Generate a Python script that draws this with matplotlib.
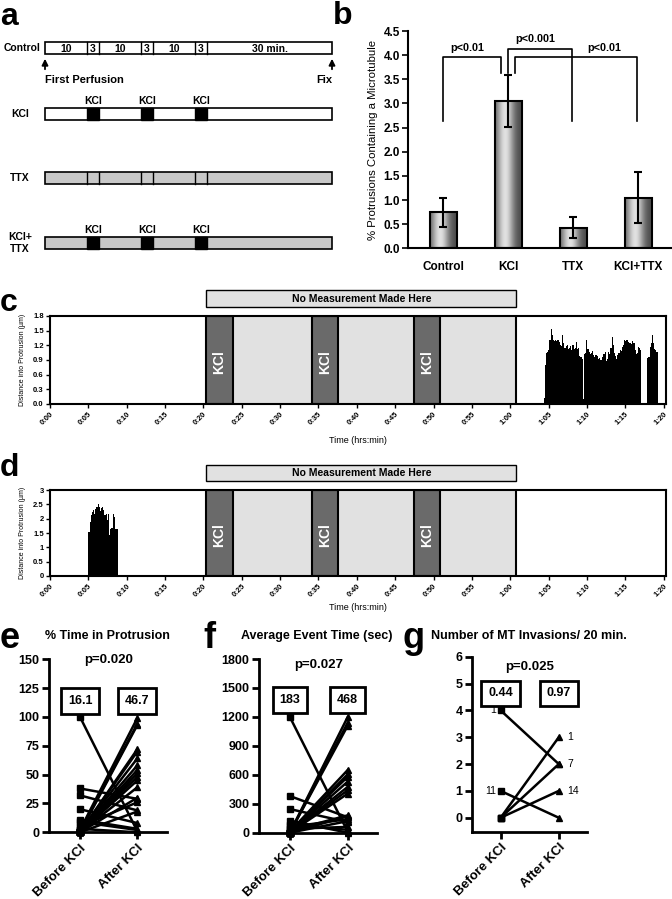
import numpy as np
import matplotlib
matplotlib.use('Agg')
import matplotlib.pyplot as plt
from matplotlib.patches import Rectangle
from matplotlib.ticker import FormatStrFormatter
from matplotlib.transforms import blended_transform_factory

plt.rcParams['font.family'] = ['Liberation Sans', 'DejaVu Sans']
plt.rcParams['font.weight'] = 'bold'

# ---------------- data ----------------
# a: perfusion protocol (minutes)
seg_min = [10, 3, 10, 3, 10, 3, 30]
seg_lab = ['10', '3', '10', '3', '10', '3', '30 min.']
kcl_seg = [1, 3, 5]

# b: % protrusions containing a microtubule
groups = ['Control', 'KCl', 'TTX', 'KCl+TTX']
pct_mt = [0.75, 3.05, 0.43, 1.05]
pct_err = [0.30, 0.53, 0.22, 0.52]
# (x left, x right, y top, y left end, y right end, label, label x, label y)
brackets = [
    (0.0, 0.88, 3.97, 2.64, 3.64, 'p<0.01', 0.37, 4.14),
    (0.99, 1.98, 4.12, 3.62, 2.64, 'p<0.001', 1.42, 4.33),
    (1.10, 2.98, 3.97, 3.64, 2.64, 'p<0.01', 2.48, 4.14),
]

# c, d: time course (minutes)
kcl_starts = [20.4, 34.1, 47.4]
kcl_len = 3.4
no_meas = (20.4, 60.8)
c_start, c_step = 64.35, 0.15
c_heights = [0.12, 0.80, 1.05, 1.07, 1.10, 1.31, 1.53, 1.42, 1.30, 1.28,
             1.31, 1.29, 1.30, 1.27, 1.20, 1.18, 1.41, 1.25, 1.15, 1.18,
             1.21, 1.12, 1.15, 1.18, 1.10, 1.21, 1.12, 1.15, 1.27, 1.13,
             1.14, 0.98, 0.96, 0.92, 0.10, 1.02, 1.05, 1.30, 1.12, 1.06,
             1.03, 1.05, 1.08, 1.00, 0.96, 1.01, 0.99, 0.93, 0.95, 0.89,
             0.91, 0.97, 1.02, 1.07, 0.88, 0.92, 1.07, 1.03, 1.14, 1.38,
             1.20, 1.04, 0.98, 0.93, 1.00, 1.04, 1.10, 1.08, 1.17, 1.20,
             1.31, 1.29, 1.31, 1.27, 1.24, 1.25, 1.22, 1.28, 1.24, 1.10,
             1.03, 1.05, 1.17, 1.15, 1.10, 0, 0, 0, 0, 0,
             0.95, 0.97, 1.17, 1.25, 1.41, 1.24, 1.12, 1.10, 1.07]
d_start, d_step = 5.0, 0.15
d_heights = [1.52, 1.90, 2.12, 2.25, 2.30, 2.18, 2.35, 2.42, 2.50, 2.40,
             2.28, 2.38, 2.42, 2.30, 2.12, 2.18, 1.95, 2.15, 1.42, 1.65,
             1.68, 2.15, 2.05, 1.65, 1.63, 1.65]

# e, f, g: paired before / after KCl
e_before = [100, 38, 32, 20, 11, 9, 5, 3, 2, 1, 0, 0, 0, 0, 0, 0, 0, 0, 0, 0, 0, 0]
e_after = [1, 29, 19, 8, 3, 2, 26, 0, 99, 94, 93, 72, 70, 64, 58, 54, 51, 48, 45, 39, 30, 18]
f_before = [1200, 380, 245, 125, 80, 60, 40, 20, 10, 0, 0, 0, 0, 0, 0, 0, 0, 0, 0, 0]
f_after = [10, 160, 110, 0, 30, 140, 60, 180, 650, 1200, 1140, 1110, 605, 580, 530, 475, 440, 405, 170, 120]
g_before = [4, 1, 0, 0, 0]
g_after = [2, 0, 3, 2, 1]
g_before_n = {4: '1', 1: '11'}
g_after_n = {3: '1', 2: '7', 1: '14'}

# ---------------- figure ----------------
W, H = 672, 899
fig = plt.figure(figsize=(W / 100, H / 100), dpi=100)


def box(l, t, r, b):
    return [l / W, 1 - b / H, (r - l) / W, (b - t) / H]


def ftext(x, y, s, **kw):
    fig.text(x / W, 1 - y / H, s, **kw)


# panel letters
for s, x, y, fs in [('a', 0, 25, 23), ('b', 333, 24, 23), ('c', 0, 311, 23),
                    ('d', 0, 476, 23), ('e', 0, 648, 26), ('f', 203, 648, 26),
                    ('g', 403, 648, 26)]:
    ftext(x, y, s, fontsize=fs, fontweight='bold', va='baseline', ha='left')

# ---- a ----
ax = fig.add_axes(box(45, 30, 332, 260))
tot = sum(seg_min)
ax.set_xlim(0, tot)
ax.set_ylim(260, 30)
ax.axis('off')
edges = np.concatenate([[0], np.cumsum(seg_min)])
bh = 12
rows = [('Control', 42, 'white', False), ('KCl', 108, 'white', True),
        ('TTX', 172, '#c8c8c8', False), ('KCl+\nTTX', 237, '#c8c8c8', True)]
for name, y, fc, kcl in rows:
    ax.add_patch(Rectangle((0, y), tot, bh, facecolor=fc, edgecolor='black', lw=1.2, clip_on=False))
    if kcl:
        for i in kcl_seg:
            ax.add_patch(Rectangle((edges[i], y), seg_min[i], bh, facecolor='black',
                                   edgecolor='black', lw=1.0, clip_on=False))
            ax.text(edges[i] + seg_min[i] / 2, y - 7, 'KCl', ha='center', va='center', fontsize=7.5)
    else:
        for e in edges[1:-1]:
            ax.plot([e, e], [y, y + bh], color='black', lw=1.0, clip_on=False)
    if name == 'Control':
        ax.text(-1.2, y + bh / 2, name, ha='right', va='center', fontsize=7.5)
        for i, lab in enumerate(seg_lab):
            ax.text(edges[i] + seg_min[i] / 2, y + bh / 2 + 0.5, lab, ha='center', va='center', fontsize=7.5)
    else:
        ax.text(-6, y + bh / 2, name, ha='center', va='center', fontsize=7.5, linespacing=1.2)
for xa in (0, tot):
    ax.annotate('', xy=(xa, 56), xytext=(xa, 72),
                arrowprops=dict(arrowstyle='-|>', color='black', lw=1.3, mutation_scale=9))
ax.text(0, 80, 'First Perfusion', ha='left', va='center', fontsize=8)
ax.text(tot, 80, 'Fix', ha='right', va='center', fontsize=8)

# ---- b ----
ax = fig.add_axes(box(408.3, 31, 672, 248.3))
xb = np.arange(len(groups))
bw = 0.41
grad = np.linspace(0, 1, 64)
shade = 0.28 + 0.6 * np.exp(-((grad - 0.38) / 0.33) ** 2)
for x, h in zip(xb, pct_mt):
    rect = Rectangle((x - bw / 2, 0), bw, h, facecolor='none', edgecolor='black', lw=1.5, zorder=3)
    ax.add_patch(rect)
    im = ax.imshow(shade[np.newaxis, :], cmap='gray', vmin=0, vmax=1, aspect='auto',
                   extent=[x - bw / 2, x + bw / 2, 0, h], zorder=2)
    im.set_clip_path(rect)
ax.errorbar(xb, pct_mt, yerr=pct_err, fmt='none', ecolor='black', elinewidth=1.5, capsize=3, capthick=1.5, zorder=4)
for x0, x1, yt, y0, y1, lab, tx, ty in brackets:
    ax.plot([x0, x0, x1, x1], [y0, yt, yt, y1], color='black', lw=1.2)
    ax.text(tx, ty, lab, ha='center', va='center', fontsize=7.8)
ax.set_xlim(-0.54, 3.52)
ax.set_ylim(0, 4.5)
ax.set_yticks(np.arange(0, 4.51, 0.5))
ax.yaxis.set_major_formatter(FormatStrFormatter('%.1f'))
ax.set_xticks(xb)
ax.set_xticklabels(groups)
ax.tick_params(axis='x', length=0, pad=9, labelsize=8.5)
ax.tick_params(axis='y', length=4, width=1.2, pad=2, labelsize=8.5, direction='out')
for s in ('top', 'right'):
    ax.spines[s].set_visible(False)
for s in ('left', 'bottom'):
    ax.spines[s].set_linewidth(1.5)
ax.set_ylabel('% Protrusions Containing a Microtubule', fontsize=8.2, labelpad=4)


# ---- c, d ----
def trace_panel(rect, start, step, heights, ymax, yticks, yfmt, time_y):
    ax = fig.add_axes(rect)
    tr = blended_transform_factory(ax.transData, ax.transAxes)
    ax.axvspan(no_meas[0], no_meas[1], color='#e1e1e1', lw=0, zorder=0)
    for s in kcl_starts:
        ax.axvspan(s, s + kcl_len, facecolor='#6a6a6a', edgecolor='black', lw=1.5, zorder=1)
        ax.text(s + kcl_len / 2, 0.48, 'KCl', rotation=90, color='white', fontsize=10,
                ha='center', va='center', transform=tr, zorder=3)
    ax.axvline(no_meas[1], color='black', lw=1.5, zorder=1)
    ax.add_patch(Rectangle((no_meas[0], 1.10), no_meas[1] - no_meas[0], 0.195, transform=tr,
                           facecolor='#e1e1e1', edgecolor='black', lw=1.0, clip_on=False))
    ax.text(sum(no_meas) / 2, 1.10 + 0.0975, 'No Measurement Made Here', transform=tr,
            ha='center', va='center', fontsize=7.5)
    e = start + step * np.arange(len(heights) + 1)
    ax.stairs(heights, e, fill=True, color='black', lw=0, zorder=2)
    ax.set_xlim(0, 80.3)
    ax.set_ylim(0, ymax)
    xt = np.arange(0, 81, 5)
    ax.set_xticks(xt)
    ax.set_xticklabels(['%d:%02d' % (m // 60, m % 60) for m in xt], rotation=45,
                       ha='right', va='top', rotation_mode='anchor', fontsize=5.5)
    ax.set_yticks(yticks)
    ax.set_yticklabels([yfmt(v) for v in yticks], fontsize=5.5)
    ax.tick_params(length=3, width=1, pad=1.5, direction='out')
    for s in ax.spines.values():
        s.set_linewidth(1.5)
    ax.set_ylabel('Distance into Protrusion (\u00b5m)', fontsize=5, labelpad=5)
    ax.set_xlabel('Time (hrs:min)', fontsize=6.5, va='center')
    ax.xaxis.set_label_coords(0.5, time_y)
    return ax


trace_panel(box(50, 316, 666, 404), c_start, c_step, c_heights, 1.8,
            np.arange(0, 1.81, 0.3), lambda v: '%.1f' % v, -0.42)
trace_panel(box(50, 490, 666, 576), d_start, d_step, d_heights, 3,
            np.arange(0, 3.01, 0.5), lambda v: '%g' % v, -0.37)


# ---- e, f, g ----
def pair_panel(rect, before, after, xlim, ylim, yticks, title, title_x, pval, p_y, means, box_y):
    ax = fig.add_axes(rect)
    for b, a in zip(before, after):
        ax.plot([0, 1], [b, a], color='black', lw=1.8, clip_on=False, zorder=2)
    ax.plot([0] * len(before), before, 's', ms=4.5, color='black', clip_on=False, zorder=3)
    ax.plot([1] * len(after), after, '^', ms=5, color='black', clip_on=False, zorder=3)
    ax.set_xlim(*xlim)
    ax.set_ylim(*ylim)
    ax.set_yticks(yticks)
    ax.set_xticks([0, 1])
    ax.set_xticklabels(['Before KCl', 'After KCl'], rotation=45, ha='right', va='top',
                       rotation_mode='anchor', fontsize=9.5)
    ax.tick_params(length=5, width=2, pad=2, direction='out', labelsize=9)
    ax.tick_params(axis='x', pad=2, labelsize=9.5)
    for s in ('top', 'right'):
        ax.spines[s].set_visible(False)
    for s in ('left', 'bottom'):
        ax.spines[s].set_linewidth(2)
    ftext(title_x, 636, title, ha='center', va='center', fontsize=9)
    ax.text(0.5, p_y, pval, ha='center', va='center', fontsize=9.5)
    for x, m in zip([0, 1], means):
        ax.text(x, box_y, m, ha='center', va='center', fontsize=9, zorder=5,
                bbox=dict(boxstyle='square,pad=0.55', facecolor='white', edgecolor='black', lw=2))
    return ax


pair_panel(box(49.3, 659.3, 166.7, 832.3), e_before, e_after, (-0.536, 1.513), (0, 150),
           np.arange(0, 151, 25), '% Time in Protrusion', 107, 'p=0.020', 149, ['16.1', '46.7'], 114)
pair_panel(box(259.3, 659, 376.7, 832.7), f_before, f_after, (-0.527, 1.5), (0, 1800),
           np.arange(0, 1801, 300), 'Average Event Time (sec)', 317, 'p=0.027', 1740, ['183', '468'], 1375)
ax = pair_panel(box(472.3, 656.7, 586.7, 831.7), g_before, g_after, (-0.487, 1.48), (-0.52, 6),
                np.arange(0, 7, 1), 'Number of MT Invasions/ 20 min.', 529, 'p=0.025', 5.62,
                ['0.44', '0.97'], 4.63)
for v, n in g_before_n.items():
    ax.text(-0.08, v, n, ha='right', va='center', fontsize=7.5, fontweight='normal')
for v, n in g_after_n.items():
    ax.text(1.15, v, n, ha='left', va='center', fontsize=7.5, fontweight='normal')

fig.savefig('out.png', dpi=100)
